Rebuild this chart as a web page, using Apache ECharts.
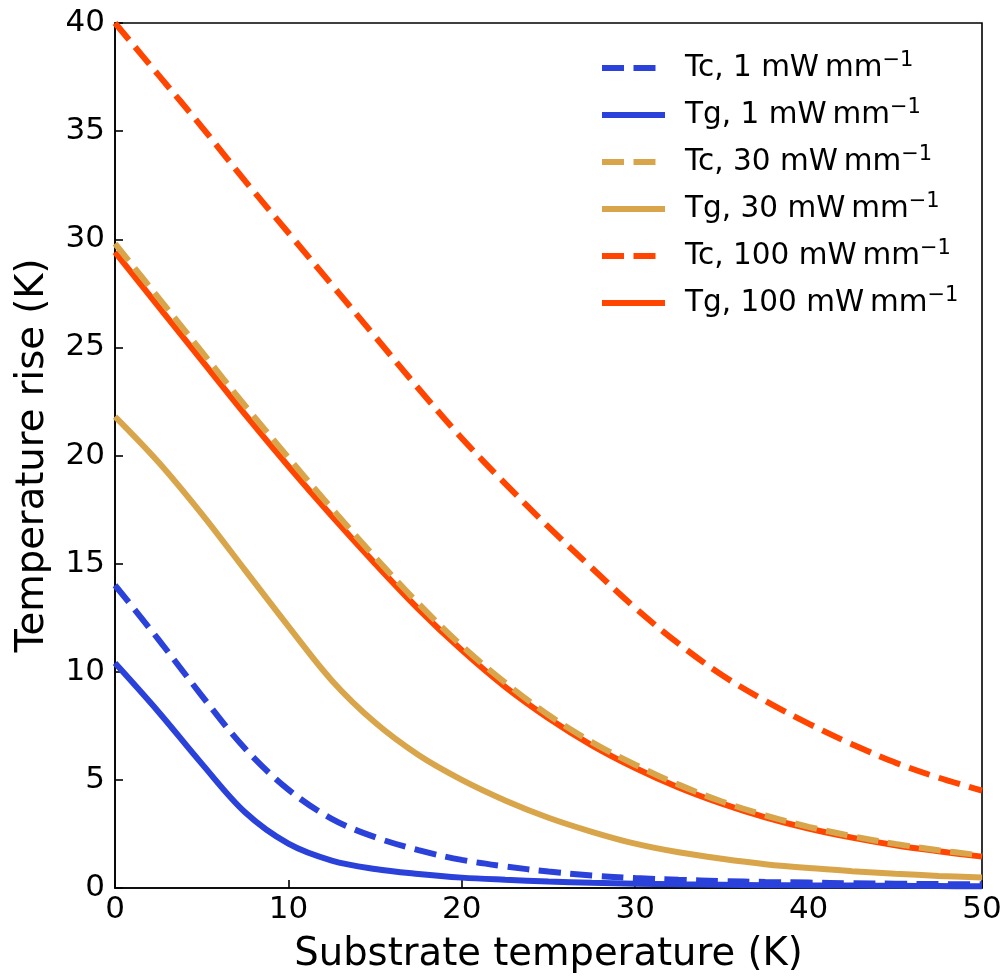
<!DOCTYPE html>
<html>
<head>
<meta charset="utf-8">
<script src="https://cdn.jsdelivr.net/npm/echarts@6/dist/echarts.min.js"></script>
<style>
  html, body { margin: 0; padding: 0; background: #fff; }
  #chart { width: 1005px; height: 979px; }
</style>
</head>
<body>
<div id="chart"></div>
<script>
// Substrate temperature (K), shared by every curve
const substrateT = [0, 2.5, 5, 7.5, 10, 12.5, 15, 17.5, 20, 22.5, 25, 27.5, 30, 32.5, 35, 37.5, 40, 42.5, 45, 47.5, 50];

// Temperature rise (K) of the chip (Tc) and the gas (Tg) at each heating power
const tc1   = [14.0, 11.5, 8.9, 6.45, 4.55, 3.2, 2.35, 1.75, 1.3, 1.0, 0.76, 0.58, 0.46, 0.38, 0.32, 0.28, 0.25, 0.22, 0.2, 0.18, 0.17];
const tg1   = [10.4, 8.15, 5.75, 3.5, 2.05, 1.27, 0.88, 0.65, 0.48, 0.38, 0.3, 0.24, 0.2, 0.17, 0.15, 0.13, 0.12, 0.11, 0.1, 0.09, 0.08];
const tc30  = [29.8, 27.3, 24.8, 22.3, 19.9, 17.55, 15.3, 13.15, 11.2, 9.5, 8.0, 6.75, 5.7, 4.78, 4.0, 3.36, 2.83, 2.4, 2.04, 1.75, 1.5];
const tg30  = [21.8, 19.7, 17.3, 14.7, 12.1, 9.6, 7.65, 6.15, 5.0, 4.05, 3.25, 2.6, 2.05, 1.65, 1.35, 1.1, 0.92, 0.78, 0.66, 0.56, 0.48];
const tc100 = [40.0, 37.6, 35.2, 32.7, 30.3, 27.9, 25.5, 23.1, 20.8, 18.7, 16.7, 14.8, 12.95, 11.3, 9.85, 8.65, 7.6, 6.65, 5.8, 5.1, 4.5];
const tg100 = [29.4, 26.9, 24.4, 21.9, 19.5, 17.2, 15.0, 12.9, 11.0, 9.3, 7.85, 6.6, 5.55, 4.65, 3.9, 3.27, 2.75, 2.33, 1.98, 1.7, 1.45];

// Axis ticks
const xTicks = [0, 10, 20, 30, 40, 50];
const yTicks = [0, 5, 10, 15, 20, 25, 30, 35, 40];

// Legend entries, in the order of the key
const seriesNames = [
  'Tc, 1 mW\u2009mm\u22121',
  'Tg, 1 mW\u2009mm\u22121',
  'Tc, 30 mW\u2009mm\u22121',
  'Tg, 30 mW\u2009mm\u22121',
  'Tc, 100 mW\u2009mm\u22121',
  'Tg, 100 mW\u2009mm\u22121'
];

const BLUE = '#2a41da';
const TAN = '#d9a54b';
const RED = '#ff4500';
const DASH = [22, 9.5];
const LW = 6;
const FONT = 'DejaVu Sans';

function pairs(ys) {
  return substrateT.map((x, i) => [x, ys[i]]);
}

function curve(name, ys, color, dashed, z) {
  return {
    name: name,
    type: 'line',
    data: pairs(ys),
    symbol: 'none',
    showSymbol: false,
    smooth: 0.35,
    z: z,
    lineStyle: { color: color, width: LW, type: dashed ? DASH : 'solid', cap: 'butt' },
    itemStyle: { color: color },
    emphasis: { disabled: true },
    animation: false
  };
}

const chart = echarts.init(document.getElementById('chart'), null, { renderer: 'canvas' });

chart.setOption({
  backgroundColor: '#fff',
  animation: false,
  grid: {
    left: 115, right: 23, top: 23, bottom: 90,
    show: true, borderColor: '#000', borderWidth: 1.6, backgroundColor: 'transparent'
  },
  legend: {
    show: true,
    data: seriesNames,
    orient: 'vertical',
    left: 594,
    top: 45,
    itemWidth: 63,
    itemHeight: 14,
    itemGap: 14,
    itemStyle: { opacity: 0, borderWidth: 0 },
    lineStyle: { width: LW },
    textStyle: {
      fontFamily: FONT,
      fontSize: 29.5,
      color: '#000',
      padding: [0, 0, 0, 15],
      rich: {
        t: { fontFamily: FONT, fontSize: 29.5, color: '#000', lineHeight: 36 },
        s: { fontFamily: FONT, fontSize: 21, color: '#000', lineHeight: 20, verticalAlign: 'top' }
      }
    },
    formatter: function (name) {
      const cut = name.lastIndexOf('mm') + 2;
      return '{t|' + name.slice(0, cut) + '}{s|' + name.slice(cut) + '}';
    }
  },
  xAxis: {
    type: 'value',
    min: xTicks[0],
    max: xTicks[xTicks.length - 1],
    interval: xTicks[1] - xTicks[0],
    name: 'Substrate temperature (K)',
    nameLocation: 'middle',
    nameGap: 47,
    nameTextStyle: { fontFamily: FONT, fontSize: 38.5, color: '#000' },
    axisLine: { show: true, onZero: false, lineStyle: { color: '#000', width: 1.6 } },
    axisTick: { show: true, inside: true, length: 8, lineStyle: { color: '#000', width: 1.6 } },
    axisLabel: { fontFamily: FONT, fontSize: 31, color: '#000', margin: 6 },
    splitLine: { show: false }
  },
  yAxis: {
    type: 'value',
    min: yTicks[0],
    max: yTicks[yTicks.length - 1],
    interval: yTicks[1] - yTicks[0],
    name: 'Temperature rise (K)',
    nameLocation: 'middle',
    nameGap: 63,
    nameTextStyle: { fontFamily: FONT, fontSize: 38.5, color: '#000' },
    axisLine: { show: true, onZero: false, lineStyle: { color: '#000', width: 1.6 } },
    axisTick: { show: true, inside: true, length: 8, lineStyle: { color: '#000', width: 1.6 } },
    axisLabel: { fontFamily: FONT, fontSize: 31, color: '#000', margin: 10 },
    splitLine: { show: false }
  },
  series: [
    curve(seriesNames[0], tc1, BLUE, true, 2),
    curve(seriesNames[1], tg1, BLUE, false, 2),
    curve(seriesNames[2], tc30, TAN, true, 4),
    curve(seriesNames[3], tg30, TAN, false, 2),
    curve(seriesNames[4], tc100, RED, true, 2),
    curve(seriesNames[5], tg100, RED, false, 3)
  ]
});
</script>
</body>
</html>
